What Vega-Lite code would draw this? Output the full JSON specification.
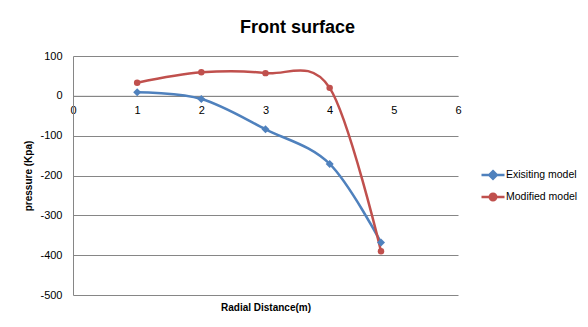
{
  "$schema": "https://vega.github.io/schema/vega-lite/v6.json",
  "autosize": "none",
  "padding": {"left": 73, "top": 56, "right": 130, "bottom": 32},
  "width": 385,
  "height": 239,
  "background": "white",
  "config": {
    "font": "Liberation Sans",
    "view": {"stroke": null}
  },
  "title": {
    "text": "Front surface",
    "fontSize": 18,
    "fontWeight": "bold",
    "color": "#000000",
    "anchor": "middle",
    "frame": "group",
    "dx": 32,
    "offset": 13
  },
  "data": {
    "values": [
      {"series": "Exisiting model", "distance": 1, "pressure": 9},
      {"series": "Exisiting model", "distance": 2, "pressure": -8},
      {"series": "Exisiting model", "distance": 3, "pressure": -84},
      {"series": "Exisiting model", "distance": 4, "pressure": -171},
      {"series": "Exisiting model", "distance": 4.8, "pressure": -368},
      {"series": "Modified model", "distance": 1, "pressure": 33},
      {"series": "Modified model", "distance": 2, "pressure": 59},
      {"series": "Modified model", "distance": 3, "pressure": 57},
      {"series": "Modified model", "distance": 4, "pressure": 20},
      {"series": "Modified model", "distance": 4.8, "pressure": -390}
    ]
  },
  "encoding": {
    "x": {
      "field": "distance",
      "type": "quantitative",
      "scale": {"domain": [0, 6], "nice": false},
      "axis": {
        "title": "Radial Distance(m)",
        "titleFontSize": 10,
        "titleFontWeight": "bold",
        "titleColor": "#000000",
        "titleY": 212,
        "titleBaseline": "middle",
        "values": [0, 1, 2, 3, 4, 5, 6],
        "format": "d",
        "offset": -199.2,
        "grid": false,
        "ticks": false,
        "domainColor": "#868686",
        "labelFontSize": 11,
        "labelColor": "#000000",
        "labelPadding": 9,
        "labelFlush": false
      }
    },
    "y": {
      "field": "pressure",
      "type": "quantitative",
      "scale": {"domain": [-500, 100], "nice": false},
      "axis": {
        "title": "pressure (Kpa)",
        "titleFontSize": 10,
        "titleFontWeight": "bold",
        "titleColor": "#000000",
        "titleX": -45,
        "titleY": 119.5,
        "titleAngle": -90,
        "titleAlign": "center",
        "titleBaseline": "middle",
        "values": [-500, -400, -300, -200, -100, 0, 100],
        "labelExpr": "'' + datum.value",
        "grid": true,
        "gridColor": "#868686",
        "domainColor": "#868686",
        "ticks": false,
        "labelFontSize": 11,
        "labelColor": "#000000",
        "labelPadding": 11,
        "labelFlush": false
      }
    },
    "color": {
      "field": "series",
      "type": "nominal",
      "scale": {"domain": ["Exisiting model", "Modified model"], "range": ["#4F81BD", "#C0504D"]},
      "legend": {
        "title": null,
        "orient": "none",
        "legendX": 407,
        "legendY": 106,
        "padding": 0,
        "labelFontSize": 10.5,
        "labelColor": "#000000",
        "labelOffset": 0,
        "rowPadding": -5,
        "symbolSize": 529,
        "symbolStrokeWidth": 2.5,
        "encode": {
          "symbols": {
            "update": {
              "shape": {"signal": "datum.value === 'Exisiting model' ? 'M-1,0H1M0,-0.33L0.33,0L0,0.33L-0.33,0Z' : 'M-1,0H1M-0.28,0A0.28,0.28,0,1,0,0.28,0A0.28,0.28,0,1,0,-0.28,0Z'"},
              "fill": {"scale": "color", "field": "value"},
              "stroke": {"scale": "color", "field": "value"},
              "strokeWidth": {"value": 2.5},
              "size": {"value": 529},
              "opacity": {"value": 1},
              "fillOpacity": {"value": 1}
            }
          }
        }
      }
    }
  },
  "layer": [
    {
      "mark": {"type": "line", "interpolate": "cardinal", "tension": 0, "strokeWidth": 2.5}
    },
    {
      "transform": [{"filter": "datum.series === 'Exisiting model'"}],
      "mark": {"type": "point", "shape": "diamond", "size": 64, "filled": true, "opacity": 1}
    },
    {
      "transform": [{"filter": "datum.series === 'Modified model'"}],
      "mark": {"type": "point", "shape": "circle", "size": 42, "filled": true, "opacity": 1}
    }
  ]
}
